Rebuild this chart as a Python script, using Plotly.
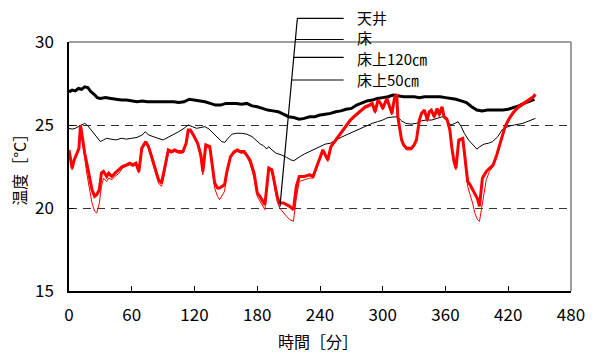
import plotly.graph_objects as go

# --- time axis ticks [min] ---
x_ticks = [0, 60, 120, 180, 240, 300, 360, 420, 480]
y_ticks = [15, 20, 25, 30]

# --- 天井 (ceiling) ---
t_ceiling = [0, 3, 6, 9, 12, 15, 18, 21, 24, 27, 30, 35, 40, 45, 50, 55, 60, 65, 70, 75,
             80, 85, 90, 95, 100, 105, 110, 115, 120, 125, 130, 135, 140, 145, 150, 155,
             160, 165, 170, 175, 180, 185, 190, 195, 200, 205, 210, 215, 220, 225, 230,
             235, 240, 245, 250, 255, 260, 265, 270, 275, 280, 285, 290, 295, 300, 305,
             310, 315, 320, 325, 330, 335, 340, 345, 350, 355, 360, 365, 370, 375, 380,
             385, 390, 395, 400, 405, 410, 415, 420, 425, 430, 435, 440, 445]
T_ceiling = [27.0, 27.1, 27.05, 27.2, 27.15, 27.3, 27.25, 27.0, 26.85, 26.65, 26.6, 26.65,
             26.6, 26.55, 26.5, 26.5, 26.45, 26.4, 26.45, 26.4, 26.4, 26.4, 26.4, 26.4,
             26.4, 26.35, 26.4, 26.55, 26.5, 26.45, 26.4, 26.3, 26.2, 26.2, 26.3, 26.3,
             26.3, 26.25, 26.3, 26.15, 26.1, 26.0, 25.9, 25.85, 25.8, 25.65, 25.5, 25.45,
             25.35, 25.4, 25.5, 25.5, 25.6, 25.65, 25.7, 25.8, 25.85, 25.95, 26.0, 26.2,
             26.35, 26.45, 26.5, 26.6, 26.65, 26.7, 26.8, 26.75, 26.7, 26.7, 26.7, 26.65,
             26.7, 26.7, 26.7, 26.7, 26.65, 26.6, 26.55, 26.45, 26.35, 26.1, 25.9, 25.85,
             25.9, 25.9, 25.9, 25.9, 25.95, 26.05, 26.15, 26.3, 26.45, 26.55]

# --- 床 (floor surface) ---
t_floor = [0, 3, 6, 9, 12, 15, 18, 21, 24, 27, 30, 33, 36, 40, 45, 50, 55, 60, 65, 70, 73,
           76, 80, 85, 90, 95, 100, 105, 110, 114, 118, 122, 126, 130, 134, 138, 142, 146,
           149, 152, 156, 160, 165, 170, 175, 180, 183, 186, 189, 191, 194, 198, 203, 208,
           212, 215, 218, 221, 225, 230, 235, 240, 245, 250, 255, 260, 265, 270, 275, 280,
           285, 290, 295, 300, 305, 310, 314, 318, 322, 327, 332, 337, 342, 347, 352, 357,
           361, 365, 369, 372, 375, 378, 382, 386, 390, 393, 397, 401, 405, 410, 414, 418,
           422, 426, 430, 434, 438, 442, 446]
T_floor = [24.8, 24.75, 24.8, 24.9, 25.0, 25.1, 24.95, 24.7, 24.5, 24.2, 24.0, 24.1, 24.2,
           24.15, 24.1, 24.2, 24.15, 24.2, 24.25, 24.4, 24.6, 24.4, 24.3, 24.2, 24.1, 24.25,
           24.4, 24.6, 24.8, 25.0, 24.9, 24.8, 24.85, 24.9, 24.75, 24.5, 24.3, 24.0, 23.95,
           24.2, 24.45, 24.5, 24.5, 24.45, 24.3, 24.0, 23.85, 23.75, 23.55, 23.7, 23.5, 23.3,
           23.2, 23.05, 22.9, 22.85, 23.0, 23.1, 23.25, 23.4, 23.55, 23.7, 23.85, 23.9, 24.1,
           24.25, 24.4, 24.55, 24.7, 24.85, 24.95, 25.1, 25.2, 25.3, 25.45, 25.5, 25.5, 25.25,
           25.1, 25.05, 25.1, 25.25, 25.3, 25.3, 25.4, 25.5, 25.3, 25.0, 25.1, 25.2, 24.9,
           24.5, 24.1, 23.8, 23.55, 23.7, 23.85, 23.9, 24.0, 24.3, 24.7, 24.85, 24.95, 25.0,
           25.05, 25.1, 25.2, 25.3, 25.4]

# --- 床上120cm / 床上50cm (air) ---
t_air = [0, 2, 3, 5, 7.5, 9.5, 11, 13, 15, 17, 20, 22, 24.5, 26.5, 29, 31, 33, 36, 38, 41,
         44, 48, 51, 55, 58, 61, 64, 66.8, 69.6, 73.4, 76, 79, 82, 85.6, 88.5, 92, 95, 98,
         101, 104.5, 109, 112, 114, 116, 119, 123, 126, 128, 130.8, 134.6, 137, 139.3, 142,
         144, 148.7, 151, 154.4, 158, 161, 164, 167.5, 170, 173, 177, 180, 182.6, 185, 187.3,
         189.5, 191, 194, 196.7, 199, 201.4, 205, 208, 211, 214.6, 217.4, 220.2, 225, 230,
         233.4, 238, 242.8, 245, 247.5, 250.4, 255, 260, 264.5, 269, 274, 279, 283.3, 287,
         290, 292.7, 295.5, 298, 300, 304, 306, 308.7, 311.5, 313.4, 314.4, 316, 318, 320,
         322.8, 327.5, 330, 332.2, 335, 337, 339.8, 342.6, 344.5, 346.4, 349.2, 352, 354,
         356.7, 358.6, 361.4, 364.2, 366, 368, 370, 372.7, 376.5, 379.3, 381.2, 383.5, 385.9,
         388, 390.6, 392.5, 395.3, 399, 402, 405.6, 409, 412.2, 417, 421, 425.4, 430, 434.8,
         438, 441.4, 444, 446]
T_120 = [23.5, 22.9, 22.4, 22.9, 23.3, 23.6, 25.0, 24.1, 23.3, 22.7, 21.7, 21.1, 20.7, 20.8,
         21.1, 22.1, 22.2, 21.9, 22.1, 21.9, 22.1, 22.3, 22.5, 22.6, 22.7, 22.6, 22.7, 22.2,
         23.6, 24.0, 23.7, 23.1, 22.4, 21.7, 21.5, 22.5, 23.5, 23.4, 23.5, 23.4, 23.4, 23.9,
         24.7, 24.7, 24.4, 23.9, 23.2, 22.2, 23.8, 23.7, 22.6, 21.5, 21.2, 21.2, 21.4, 22.2,
         23.1, 23.4, 23.5, 23.4, 23.4, 23.2, 22.9, 22.1, 20.9, 20.7, 20.4, 20.2, 21.5, 22.4,
         22.3, 21.3, 20.7, 20.3, 20.3, 20.2, 20.1, 19.9, 21.3, 21.9, 21.9, 22.0, 21.9, 22.7,
         23.5, 23.2, 22.9, 23.7, 24.1, 24.5, 24.9, 25.3, 25.6, 25.9, 26.1, 26.2, 26.3, 25.8,
         26.5, 26.3, 26.0, 26.6, 26.2, 25.7, 26.7, 26.85, 25.5, 24.8, 24.1, 23.8, 23.6, 23.6,
         23.8, 24.1, 25.3, 25.7, 25.9, 25.3, 25.8, 25.9, 25.5, 26.0, 25.6, 26.1, 25.5, 25.35,
         24.7, 23.65, 22.85, 22.4, 24.1, 24.2, 22.65, 21.6, 21.4, 21.1, 20.9, 20.55, 20.1,
         21.8, 22.2, 22.4, 22.6, 23.2, 23.9, 24.9, 25.4, 25.8, 26.1, 26.3, 26.45, 26.6, 26.7,
         26.85]
T_50 = [23.3, 22.8, 22.3, 22.8, 23.2, 23.5, 24.9, 24.0, 22.9, 22.1, 21.0, 20.3, 19.8, 19.7,
        20.3, 21.3, 21.8, 21.6, 21.8, 21.7, 21.9, 22.1, 22.4, 22.5, 22.6, 22.5, 22.6, 22.1,
        23.5, 23.9, 23.6, 22.9, 22.2, 21.5, 21.3, 22.3, 23.4, 23.3, 23.4, 23.3, 23.3, 23.8,
        24.6, 24.6, 24.3, 23.8, 23.0, 22.0, 23.7, 23.6, 22.3, 21.2, 20.7, 20.5, 21.0, 22.0,
        23.0, 23.3, 23.4, 23.3, 23.3, 23.1, 22.7, 21.8, 20.7, 20.4, 20.1, 19.9, 21.2, 22.3,
        22.2, 21.1, 20.4, 20.0, 19.7, 19.5, 19.3, 19.2, 20.6, 21.6, 21.7, 21.8, 21.8, 22.6,
        23.4, 23.1, 22.8, 23.6, 24.0, 24.4, 24.8, 25.2, 25.5, 25.8, 26.0, 26.1, 26.2, 25.7,
        26.4, 26.2, 25.9, 26.5, 26.1, 25.6, 26.6, 26.75, 25.4, 24.7, 24.0, 23.7, 23.5, 23.5,
        23.7, 24.0, 25.2, 25.6, 25.8, 25.2, 25.7, 25.8, 25.4, 25.9, 25.5, 26.0, 25.4, 25.25,
        24.6, 23.5, 22.7, 22.3, 24.0, 24.1, 22.5, 21.3, 20.8, 20.3, 19.7, 19.3, 19.2,
        20.3, 21.7, 22.2, 22.5, 23.1, 23.8, 24.8, 25.3, 25.7, 26.0, 26.2, 26.35, 26.5, 26.6,
        26.75]

FONT = "Liberation Sans Narrow, Arial Narrow, Noto Sans CJK JP, sans-serif"
JP_FONT = "Noto Sans CJK JP, sans-serif"

fig = go.Figure()
fig.add_trace(go.Scatter(x=t_floor, y=T_floor, mode="lines", name="床",
                         line=dict(color="black", width=1)))
fig.add_trace(go.Scatter(x=t_ceiling, y=T_ceiling, mode="lines", name="天井",
                         line=dict(color="black", width=3)))
fig.add_trace(go.Scatter(x=t_air, y=T_50, mode="lines", name="床上50㎝",
                         line=dict(color="#ff0000", width=1)))
fig.add_trace(go.Scatter(x=t_air, y=T_120, mode="lines", name="床上120㎝",
                         line=dict(color="#ff0000", width=3)))

# plot area in pixels
L, R, TOP, BOT = 69, 579, 42, 291


def px(x):
    return (x - L) / (R - L)


def py(y):
    return (BOT - y) / (BOT - TOP)


shapes = [
    # gray frame on top and right
    dict(type="line", xref="paper", yref="paper", x0=0, x1=1, y0=1, y1=1,
         line=dict(color="#7f7f7f", width=1.5)),
    dict(type="line", xref="paper", yref="paper", x0=1, x1=1, y0=0, y1=1,
         line=dict(color="#7f7f7f", width=1.5)),
    # label leader line
    dict(type="line", xref="paper", yref="paper", x0=px(301), y0=py(18.3),
         x1=px(283.3), y1=py(206.7), line=dict(color="black", width=1.2)),
]
labels = ["天井", "床", "床上120㎝", "床上50㎝"]
label_y = [18.3, 39.5, 57.3, 80]
for lab, yy in zip(labels, label_y):
    xs = 301 - 17.7 * (yy - 18.3) / 188.4
    shapes.append(dict(type="line", xref="paper", yref="paper", x0=px(xs), x1=px(348),
                       y0=py(yy), y1=py(yy), line=dict(color="black", width=1.2)))

annotations = []
text_y = [17.5, 37.5, 58.0, 79.0]
for lab, yy in zip(labels, text_y):
    annotations.append(dict(text=lab, xref="paper", yref="paper", x=px(360), y=py(yy),
                            xanchor="left", yanchor="middle", showarrow=False,
                            font=dict(family=JP_FONT, size=15, color="black")))
annotations.append(dict(text="温度［°C］", xref="paper", yref="paper", x=px(18), y=py(166),
                        xanchor="center", yanchor="middle", textangle=-90, showarrow=False,
                        font=dict(family=JP_FONT, size=16, color="black")))
annotations.append(dict(text="時間［分］", xref="paper", yref="paper", x=px(322), y=py(341),
                        xanchor="center", yanchor="middle", showarrow=False,
                        font=dict(family=JP_FONT, size=16, color="black")))

fig.update_layout(
    width=597, height=353,
    margin=dict(l=L, r=597 - R, t=TOP, b=353 - BOT),
    paper_bgcolor="white", plot_bgcolor="white",
    showlegend=False,
    shapes=shapes, annotations=annotations,
    font=dict(family=FONT, size=17, color="black"),
)
fig.update_xaxes(range=[0, 480], tickvals=x_ticks, ticks="inside", ticklen=5,
                 tickcolor="black", showline=True, linecolor="black", linewidth=1.5,
                 showgrid=False, zeroline=False, ticklabelstandoff=8,
                 tickfont=dict(family=FONT, size=17))
fig.update_yaxes(range=[15, 30], tickvals=y_ticks, ticks="inside", ticklen=5,
                 tickcolor="black", showline=True, linecolor="black", linewidth=1.5,
                 showgrid=True, gridcolor="#333333", gridwidth=1, griddash="8px,6px",
                 zeroline=False, ticklabelstandoff=10,
                 tickfont=dict(family=FONT, size=17))

fig.write_html("out.html")
